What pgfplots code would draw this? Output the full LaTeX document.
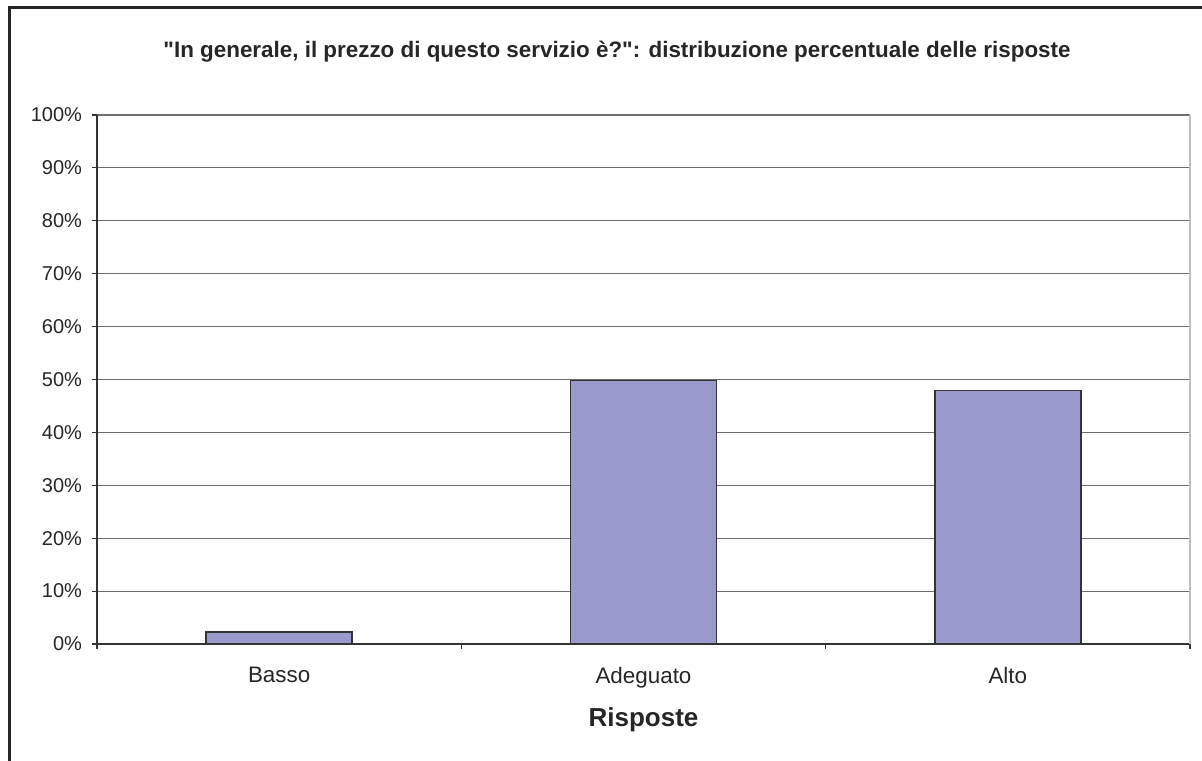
\documentclass[border=0pt]{standalone}
\usepackage{pgfplots}
\pgfplotsset{compat=1.18}
\usepackage{fontspec}
\setmainfont{Liberation Sans}[Ligatures=TeXOff]
\definecolor{barfill}{RGB}{153,153,204}
\definecolor{gridc}{RGB}{110,110,110}
\begin{document}
\begin{tikzpicture}[x=0.5pt,y=0.5pt]
\useasboundingbox (0,0) rectangle (1202,760);
\draw[line width=1.5pt,black!85] (9,-20) -- (9,752) -- (1250,752);
\node[font=\bfseries\fontsize{11.2}{13}\selectfont,text=black!85] at (617,708) {"In generale, il prezzo di questo servizio è?": distribuzione percentuale delle risposte};
\begin{axis}[
  at={(48.5pt,58pt)}, anchor=south west,
  scale only axis, width=546.5pt, height=264.5pt,
  xmin=-0.5, xmax=2.5, ymin=0, ymax=100,
  ytick={0,10,...,100},
  yticklabel={\pgfmathprintnumber{\tick}\%},
  /pgf/number format/assume math mode=true,
  ymajorgrids, major grid style={gridc, line width=0.6pt},
  xtick={0,1,2}, xticklabels={Basso,Adeguato,Alto},
  minor xtick={-0.5,0.5,1.5,2.5},
  major x tick style={draw=none},
  minor tick length=5pt/2, major tick length=5pt/2,
  tick align=outside,
  tick style={black!80, line width=0.6pt},
  xtick pos=bottom, ytick pos=left,
  axis x line*=bottom, axis y line*=left,
  axis line style={black!80, line width=0.8pt},
  ticklabel style={font=\fontsize{10}{11}\selectfont, text=black!85},
  xticklabel style={font=\fontsize{11.2}{12}\selectfont, yshift=-5.5pt},
  yticklabel style={xshift=-1.5pt},
  xlabel={Risposte},
  xlabel style={font=\bfseries\fontsize{13}{14}\selectfont, text=black!85, at={(axis description cs:0.5,0)}, anchor=center, yshift=-38pt},
  ybar, bar width=73pt,
  clip=false,
]
\addplot[fill=barfill, draw=black!80, line width=0.8pt] coordinates {(0,2.3) (1,49.8) (2,47.9)};
\draw[black!25, line width=0.8pt] (axis cs:2.5,0) -- (axis cs:2.5,100);
\end{axis}
\end{tikzpicture}
\end{document}
